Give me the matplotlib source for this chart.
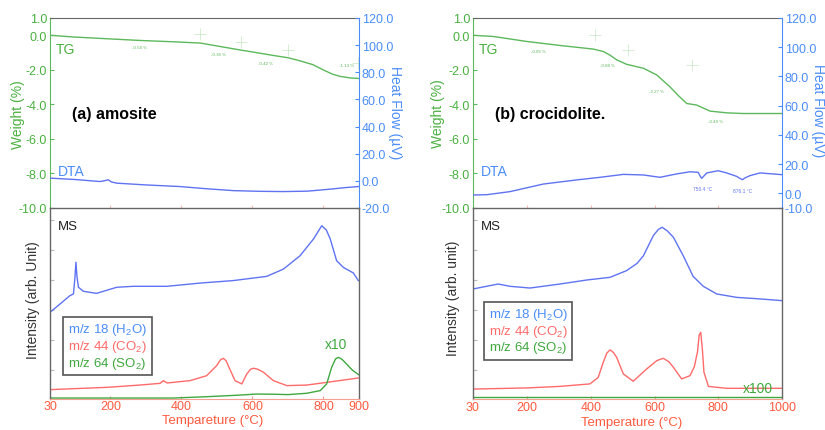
import numpy as np
import matplotlib
matplotlib.use("Agg")
import matplotlib.pyplot as plt

plt.rcParams['font.family'] = ['Liberation Sans', 'DejaVu Sans']
plt.rcParams['mathtext.fontset'] = 'custom'
plt.rcParams['mathtext.rm'] = 'Liberation Sans'

# ---------------- data: (a) amosite ----------------
a_tg_T = [30, 96, 190, 283, 380, 453, 509, 565, 610, 659, 700, 734, 770, 799, 825, 847, 875, 898]
a_tg_w = [0.0, -0.1, -0.2, -0.3, -0.38, -0.45, -0.65, -0.85, -1.0, -1.17, -1.3, -1.48, -1.7, -2.0, -2.25, -2.38, -2.47, -2.5]
a_dta_T = [30, 100, 171, 185, 194, 203, 218, 300, 396, 470, 546, 620, 686, 754, 790, 827, 860, 898]
a_dta_hf = [2.0, 1.0, -0.5, 0.2, 0.8, -0.8, -1.7, -3.0, -4.2, -5.8, -7.2, -7.7, -7.9, -7.6, -6.8, -5.9, -5.0, -4.2]
a_step_T = [453, 568, 700, 898]
a_step_w = [0.05, -0.41, -0.88, -1.62]
a_step_lab_T = [283, 506, 636, 864]
a_step_lab_w = [-0.69, -1.1, -1.62, -1.74]
a_step_lab = ["-0.58 %", "-0.36 %", "-0.42 %", "-1.13 %"]

a_h2o_T = [30, 58, 86, 96, 100, 103, 106, 110, 124, 161, 218, 265, 359, 453, 546, 640, 687, 734, 772, 795, 808, 819, 837, 856, 884, 898]
a_h2o_I = [45.4, 49.7, 54.1, 55.0, 63.0, 71.6, 64.0, 58.5, 56.4, 55.3, 58.5, 59.0, 59.0, 60.7, 62.0, 64.2, 68.0, 75.0, 83.8, 90.7, 88.5, 83.8, 72.4, 68.9, 66.0, 62.0]
a_co2_T = [30, 190, 283, 340, 349, 360, 424, 471, 499, 510, 518, 526, 532, 551, 570, 584, 595, 603, 615, 631, 659, 697, 753, 809, 898]
a_co2_I = [4.9, 6.1, 7.3, 8.2, 9.6, 8.4, 9.6, 12.2, 17.4, 20.5, 21.3, 20.0, 17.4, 9.6, 7.9, 13.1, 15.6, 16.1, 15.6, 14.0, 9.6, 7.0, 7.3, 8.7, 11.0]
a_so2_T = [30, 377, 471, 560, 612, 660, 700, 753, 791, 809, 823, 834, 842, 852, 865, 882, 900]
a_so2_I = [0.5, 0.5, 1.2, 2.0, 2.6, 2.5, 2.3, 3.0, 4.4, 7.9, 16.6, 21.0, 21.8, 20.8, 18.3, 15.0, 12.6]

# ---------------- data: (b) crocidolite ----------------
b_tg_T = [30, 94, 199, 303, 408, 439, 460, 481, 512, 565, 607, 648, 675, 701, 732, 774, 826, 878, 1000]
b_tg_w = [0.0, -0.07, -0.36, -0.59, -0.8, -0.94, -1.15, -1.42, -1.68, -1.91, -2.3, -2.98, -3.5, -3.95, -4.04, -4.39, -4.49, -4.53, -4.53]
b_dta_T = [30, 73, 146, 251, 355, 429, 502, 565, 617, 669, 711, 737, 744, 748, 753, 764, 800, 826, 857, 870, 876, 883, 899, 931, 1000]
b_dta_hf = [-1.1, -0.9, 1.2, 6.4, 9.2, 11.0, 13.0, 12.6, 11.0, 13.3, 14.8, 14.4, 11.5, 10.3, 11.5, 14.0, 15.5, 14.0, 11.7, 10.0, 9.4, 10.5, 12.1, 14.0, 12.8]
b_step_T = [413, 517, 716]
b_step_w = [0.0, -0.85, -1.72]
b_step_lab_T = [236, 452, 607, 792]
b_step_lab_w = [-0.92, -1.74, -3.25, -4.94]
b_step_lab = ["-0.85 %", "-0.88 %", "-2.27 %", "-0.49 %"]
b_peak_T = [750.4, 876.1]
b_peak_hf = [3.0, 2.3]
b_peak_lab = ["750.4 \u00b0C", "876.1 \u00b0C"]

b_h2o_T = [30, 109, 146, 209, 303, 387, 460, 512, 545, 565, 596, 612, 624, 640, 659, 690, 721, 753, 795, 858, 931, 1000]
b_h2o_I = [57.6, 60.2, 59.0, 58.1, 60.2, 62.3, 63.7, 67.2, 71.0, 75.0, 85.5, 88.8, 89.9, 88.0, 84.7, 75.0, 64.2, 59.0, 55.0, 53.2, 52.4, 51.5]
b_co2_T = [30, 199, 303, 397, 423, 439, 450, 460, 470, 481, 502, 533, 575, 607, 627, 645, 659, 685, 711, 725, 735, 740, 745, 750, 755, 769, 826, 1000]
b_co2_I = [5.2, 5.8, 6.6, 7.9, 11.3, 19.2, 24.0, 25.7, 24.5, 21.8, 13.1, 9.3, 15.7, 20.1, 21.3, 19.5, 16.6, 10.5, 12.2, 17.0, 25.0, 33.5, 34.9, 26.0, 14.0, 6.6, 5.6, 5.6]
b_so2_T = [30, 200, 400, 600, 800, 1000]
b_so2_I = [0.8, 0.8, 0.8, 0.8, 0.8, 0.8]

# ---------------- styles ----------------
GREEN = '#5cb85c'
GREEN_T = '#49b03f'
BLUE_L = '#5f73f2'
BLUE_T = '#4b8df8'
RED = '#ff6a6a'
RED_T = '#ff5a40'
SO2 = '#3fa83f'
GREY = '#666666'

W, H = 825, 431
fig = plt.figure(figsize=(8.25, 4.31), dpi=100)


def fx(px):
    return px / W


def fy(py):
    return 1 - py / H


def panel(x0, x1, xmax, xticks, tg_T, tg_w, dta_T, dta_hf, hf_lim, hf_ticks,
          step_T, step_w, lab_T, lab_w, labs, h2o, co2, so2, title, xlabel,
          scale_lab, scale_pos, leg_anchor, xlab_xy, tick_pad):
    y_top, y_mid, y_bot = 19, 209, 400
    ax = fig.add_axes([fx(x0), fy(y_mid), fx(x1 - x0), (y_mid - y_top) / H])
    ax.set_xlim(30, xmax)
    ax.set_ylim(-10, 1)
    ax.plot(tg_T, tg_w, color=GREEN, lw=1.0)
    ax.plot(step_T, step_w, ls='none', marker='+', ms=8, mew=0.5, color='#c8e6c4')
    for T, w, s in zip(lab_T, lab_w, labs):
        ax.text(T, w, s, fontsize=3.2, color=GREEN, ha='center', va='center')
    ax.set_yticks([1, 0, -2, -4, -6, -8, -10])
    ax.set_yticklabels(['%.1f' % v for v in [1, 0, -2, -4, -6, -8, -10]])
    ax.tick_params(axis='y', colors=GREEN, labelcolor=GREEN_T, labelsize=9,
                   direction='in', length=3, pad=2)
    ax.set_xticks(xticks)
    ax.tick_params(axis='x', labelbottom=False, direction='in', length=2, colors='#f5c0b8')
    ax.spines['left'].set_color(GREEN)
    ax.spines['top'].set_color(GREY)
    ax.spines['right'].set_visible(False)
    ax.spines['bottom'].set_visible(False)
    ax.text(0.02, 0.835, 'TG', transform=ax.transAxes, color=GREEN_T, fontsize=10, va='center')
    ax.text(0.07, 0.495, title, transform=ax.transAxes, fontsize=11.5, fontweight='bold', va='center')

    ax2 = ax.twinx()
    ax2.set_ylim(*hf_lim)
    ax2.plot(dta_T, dta_hf, color=BLUE_L, lw=1.0)
    ax2.set_yticks(hf_ticks)
    ax2.set_yticklabels(['%.1f' % v for v in hf_ticks])
    ax2.tick_params(axis='y', colors=BLUE_T, labelcolor=BLUE_T, labelsize=9,
                    direction='in', length=3, pad=2)
    ax2.spines['right'].set_color(BLUE_T)
    for s in ['left', 'top', 'bottom']:
        ax2.spines[s].set_visible(False)
    ax2.text(0.025, 0.195, 'DTA', transform=ax2.transAxes, color=BLUE_T, fontsize=10, va='center')

    ms = fig.add_axes([fx(x0), fy(y_bot), fx(x1 - x0), (y_bot - y_mid) / H])
    ms.set_xlim(30, xmax)
    ms.set_ylim(0, 100)
    l1, = ms.plot(h2o[0], h2o[1], color=BLUE_L, lw=1.0)
    l2, = ms.plot(co2[0], co2[1], color=RED, lw=1.0)
    l3, = ms.plot(so2[0], so2[1], color=SO2, lw=1.0)
    ms.set_xticks(xticks)
    ms.set_xticklabels([str(v) for v in xticks])
    ms.tick_params(axis='x', colors='#f59a8a', labelcolor=RED_T, labelsize=9,
                   direction='in', length=2, pad=tick_pad)
    ms.set_yticks(np.arange(15, 100, 15.7))
    ms.tick_params(axis='y', labelleft=False, direction='in', length=3, colors='#bbbbbb')
    for s in ['left', 'top', 'right']:
        ms.spines[s].set_color(GREY)
        ms.spines[s].set_linewidth(1.0)
    ms.spines['bottom'].set_color('#f5a090')
    ms.text(0.025, 0.905, 'MS', transform=ms.transAxes, fontsize=9.5, color='#222222', va='center')
    ms.text(scale_pos[0], scale_pos[1], scale_lab, color=SO2, fontsize=10, ha='center', va='center')
    leg = ms.legend([l1, l2, l3],
                    ['m/z 18 (H$\\mathregular{_2}$O)', 'm/z 44 (CO$\\mathregular{_2}$)',
                     'm/z 64 (SO$\\mathregular{_2}$)'],
                    loc='upper left', bbox_to_anchor=leg_anchor, handlelength=0,
                    handletextpad=0, fontsize=9.5, labelspacing=0.05, borderpad=0.35,
                    fancybox=False, edgecolor='#555555', framealpha=1,
                    labelcolor=[BLUE_T, RED, SO2])
    leg.get_frame().set_linewidth(1.2)
    for h in leg.legend_handles:
        h.set_visible(False)
    ms.set_zorder(3)
    ms.patch.set_alpha(0)
    ax.set_zorder(1)
    ax2.set_zorder(2)
    fig.text(fx(xlab_xy[0]), fy(xlab_xy[1]), xlabel, color=RED_T, fontsize=9.5,
             ha='center', va='center')
    return ax, ax2, ms


# left panel
panel(50, 359, 900, [30, 200, 400, 600, 800, 900], a_tg_T, a_tg_w, a_dta_T, a_dta_hf,
      (-20, 120), [-20, 0, 20, 40, 60, 80, 100, 120],
      a_step_T, a_step_w, a_step_lab_T, a_step_lab_w, a_step_lab,
      (a_h2o_T, a_h2o_I), (a_co2_T, a_co2_I), (a_so2_T, a_so2_I),
      '(a) amosite', 'Tempareture (\u00b0C)',
      'x10', (836, 29), (0.022, 0.465), (213, 421.5), 1)

ax, ax2, ms = panel(473, 782, 1000, [30, 200, 400, 600, 800, 1000], b_tg_T, b_tg_w, b_dta_T, b_dta_hf,
                    (-10, 120), [-10, 0, 20, 40, 60, 80, 100, 120],
                    b_step_T, b_step_w, b_step_lab_T, b_step_lab_w, b_step_lab,
                    (b_h2o_T, b_h2o_I), (b_co2_T, b_co2_I), (b_so2_T, b_so2_I),
                    '(b) crocidolite.', 'Temperature (\u00b0C)',
                    'x100', (925, 6), (0.015, 0.545), (632, 423.5), 1.5)
for T, hf, s in zip(b_peak_T, b_peak_hf, b_peak_lab):
    ax2.text(T, hf, s, fontsize=3.5, color=BLUE_L, ha='center', va='center')

# axis labels
fig.text(fx(18), fy(115), 'Weight (%)', color=GREEN_T, fontsize=10, rotation=90, ha='center', va='center')
fig.text(fx(395), fy(113), 'Heat Flow (\u00b5V)', color=BLUE_T, fontsize=10, rotation=270, ha='center', va='center')
fig.text(fx(33), fy(300), 'Intensity (arb. Unit)', color='#333333', fontsize=10, rotation=90, ha='center', va='center')
fig.text(fx(438), fy(114), 'Weight (%)', color=GREEN_T, fontsize=10, rotation=90, ha='center', va='center')
fig.text(fx(818), fy(111), 'Heat Flow (\u00b5V)', color=BLUE_T, fontsize=10, rotation=270, ha='center', va='center')
fig.text(fx(453), fy(298), 'Intensity (arb. unit)', color='#333333', fontsize=10, rotation=90, ha='center', va='center')

fig.savefig('out.png', dpi=100)
